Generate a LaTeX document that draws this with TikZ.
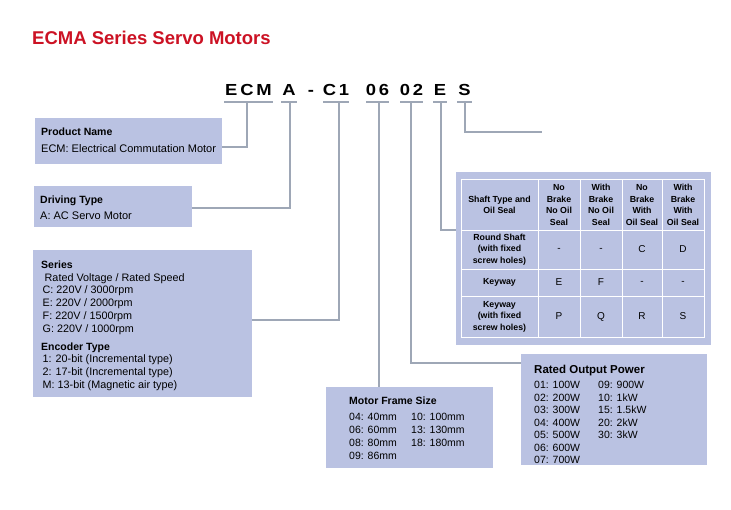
\documentclass[tikz,border=0pt]{standalone}
\usepackage{fontspec}
\setmainfont{Liberation Sans}
\newfontfamily\codefont[FakeStretch=1.15, LetterSpace=18]{Liberation Sans}
\usetikzlibrary{positioning}
\definecolor{boxblue}{RGB}{186,194,226}
\definecolor{wiregray}{RGB}{158,167,182}
\definecolor{titlered}{RGB}{204,18,36}
\tikzset{
infobox/.style={fill=boxblue, draw=none, anchor=north west, inner sep=0pt}, % light blue panels
wire/.style={draw=wiregray, line width=1.8pt}, % grey leader lines
grid/.style={draw=white, line width=0.8pt}, % table rules
head/.style={font=\fontsize{10.5}{12}\selectfont\bfseries, anchor=base west, inner sep=0pt},
item/.style={font=\fontsize{10.5}{12}\selectfont, anchor=base west, inner sep=0pt},
code/.style={font=\codefont\fontsize{16}{17}\selectfont\bfseries, anchor=base, inner sep=0pt},
cell/.style={font=\fontsize{8.8}{11.6}\selectfont\bfseries, align=center, inner sep=0pt},
entry/.style={font=\fontsize{10}{12}\selectfont, inner sep=0pt},
}

\begin{document}
\begin{tikzpicture}[x=1pt, y=-1pt]
    \useasboundingbox[fill=white] (0,0) rectangle (731,509);

    % title and model code
    \node[font=\fontsize{18.5}{20}\selectfont\bfseries, text=titlered, anchor=base west, inner sep=0pt]
        (title) at (32,44.5) {ECMA Series Servo Motors};
    \foreach \t/\x [count=\i] in {ECM/248.5, A/289, -/311, C1/336, 06/377.5, 02/411.5, E/440, S/464.5}
        \node[code] (code\i) at (\x,95.5) {\t};
    \foreach \a/\b in {224/273, 281/297, 323/349, 366/389, 400/423, 433/447, 457/472}
        \draw[wire] (\a,102) -- (\b,102);
    \coordinate (tECM) at (247,102);
    \coordinate (tA) at (290,102);
    \coordinate (tC1) at (339,102);
    \coordinate (t06) at (379,102);
    \coordinate (t02) at (411,102);
    \coordinate (tE) at (441,102);
    \coordinate (tS) at (465,102);
    \coordinate (sEnd) at (542,132);

    % panels
    \node[infobox, minimum width=187pt, minimum height=46pt] (pname) at (35,118) {};
    \node[infobox, minimum width=158pt, minimum height=41pt] (dtype) at (34,186) {};
    \node[infobox, minimum width=219pt, minimum height=147pt] (series) at (33,250) {};
    \node[infobox, minimum width=167pt, minimum height=81pt] (frame) at (326,387) {};
    \node[infobox, minimum width=186pt, minimum height=111pt] (power) at (521,354) {};
    \node[infobox, minimum width=255pt, minimum height=173pt] (shaft) at (456,172) {};

    % leaders
    \draw[wire] (tECM) |- ([yshift=-6pt]pname.east);
    \draw[wire] (tA) |- ([yshift=-1.5pt]dtype.east);
    \draw[wire] (tC1) |- ([yshift=3.5pt]series.east);
    \draw[wire] (t06) -- (t06 |- frame.north);
    \draw[wire] (t02) |- ([yshift=-9pt]power.north west);
    \draw[wire] (tE) |- ([yshift=-58pt]shaft.north west);
    \draw[wire] (tS) |- (sEnd);

    % product name, driving type
    \node[head] (pnameH) at (41,135.5) {Product Name};
    \node[item, font=\fontsize{11}{12}\selectfont] (pname1) at (41,152.5) {ECM: Electrical Commutation Motor};
    \node[head] (dtypeH) at (40,203) {Driving Type};
    \node[item, font=\fontsize{11}{12}\selectfont] (dtype1) at (40,219) {A: AC Servo Motor};

    % series and encoder
    \node[head] (seriesH) at (41,268) {Series};
    \node[item, font=\fontsize{10.8}{12}\selectfont] (series0) at (44.5,281) {Rated Voltage / Rated Speed};
    \foreach \t [count=\i] in {C: 220V / 3000rpm, E: 220V / 2000rpm, F: 220V / 1500rpm, G: 220V / 1000rpm}
        \node[item, font=\fontsize{10.8}{12}\selectfont] (series\i) at (42.5,281+12.8*\i) {\t};
    \node[head] (encH) at (41,350.5) {Encoder Type};
    \foreach \t [count=\i] in {1: 20-bit (Incremental type), 2: 17-bit (Incremental type), M: 13-bit (Magnetic air type)}
        \node[item, font=\fontsize{10.8}{12}\selectfont] (enc\i) at (42.5,348.7+13.3*\i) {\t};

    % motor frame size
    \node[head] (frameH) at (349,404.5) {Motor Frame Size};
    \foreach \t [count=\i] in {04: 40mm, 06: 60mm, 08: 80mm, 09: 86mm}
        \node[item] (frameA\i) at (349,407.3+13.1*\i) {\t};
    \foreach \t [count=\i] in {10: 100mm, 13: 130mm, 18: 180mm}
        \node[item] (frameB\i) at (411,407.3+13.1*\i) {\t};

    % rated output power
    \node[head, font=\fontsize{11.5}{13}\selectfont\bfseries] (powerH) at (534,373) {Rated Output Power};
    \foreach \t [count=\i] in {01: 100W, 02: 200W, 03: 300W, 04: 400W, 05: 500W, 06: 600W, 07: 700W}
        \node[item] (powerA\i) at (534,376.2+12.5*\i) {\t};
    \foreach \t [count=\i] in {09: 900W, 10: 1kW, 15: 1.5kW, 20: 2kW, 30: 3kW}
        \node[item] (powerB\i) at (598,376.2+12.5*\i) {\t};

    % shaft type table
    \draw[grid] (461,179) rectangle (704,337);
    \foreach \x in {538,580,622,662}
        \draw[grid] (\x,179) -- (\x,337);
    \foreach \y in {230,269,296}
        \draw[grid] (461,\y) -- (704,\y);
    \node[cell] (hd0) at (499.5,205) {Shaft Type and\\Oil Seal};
    \node[cell] (hd1) at (559,205) {No\\Brake\\No Oil\\Seal};
    \node[cell] (hd2) at (601,205) {With\\Brake\\No Oil\\Seal};
    \node[cell] (hd3) at (642,205) {No\\Brake\\With\\Oil Seal};
    \node[cell] (hd4) at (683,205) {With\\Brake\\With\\Oil Seal};
    \node[cell] (row1) at (499.5,249.5) {Round Shaft\\(with fixed\\screw holes)};
    \node[cell] (row2) at (499.5,282.5) {Keyway};
    \node[cell] (row3) at (499.5,316.5) {Keyway\\(with fixed\\screw holes)};
    \foreach \a/\b/\c/\d/\y [count=\r] in {-/-/C/D/249.5, E/F/-/-/282.5, P/Q/R/S/316.5} {
        \node[entry] (ent\r-1) at (559,\y) {\a};
        \node[entry] (ent\r-2) at (601,\y) {\b};
        \node[entry] (ent\r-3) at (642,\y) {\c};
        \node[entry] (ent\r-4) at (683,\y) {\d};
    }
\end{tikzpicture}
\end{document}
